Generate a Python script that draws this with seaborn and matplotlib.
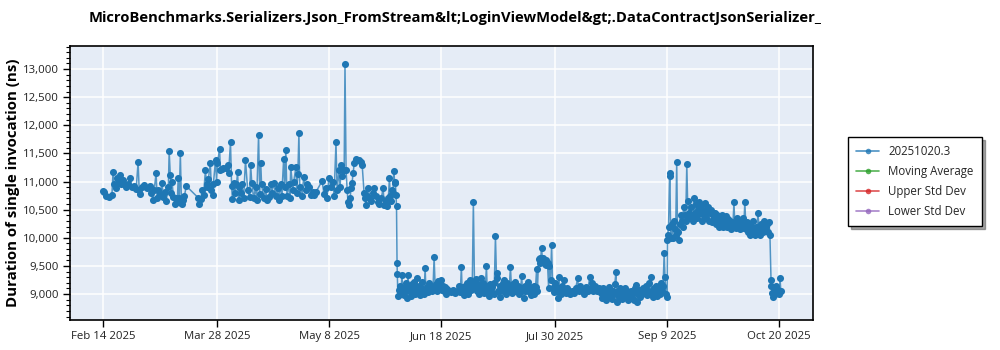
import numpy as np
import pandas as pd
import matplotlib
matplotlib.use("Agg")
import matplotlib.pyplot as plt
import matplotlib.dates as mdates
from matplotlib.ticker import MultipleLocator, FuncFormatter, FixedLocator
from matplotlib.lines import Line2D
import seaborn as sns

TITLE = "MicroBenchmarks.Serializers.Json_FromStream&lt;LoginViewModel&gt;.DataContractJsonSerializer_"
YLABEL = "Duration of single invocation (ns)"
LEGEND_LABELS = ["20251020.3", "Moving Average", "Upper Std Dev", "Lower Std Dev"]
LEGEND_COLORS = ["#1f77b4", "#2ca02c", "#d62728", "#9467bd"]
START_DATE = "2025-02-14"
XTICK_DATES = ["2025-02-14", "2025-03-28", "2025-05-08", "2025-06-18",
               "2025-07-30", "2025-09-09", "2025-10-20"]
XTICK_LABELS = ["Feb 14 2025", "Mar 28 2025", "May 8 2025", "Jun 18 2025",
                "Jul 30 2025", "Sep 9 2025", "Oct 20 2025"]
YTICKS = [9000, 9500, 10000, 10500, 11000, 11500, 12000, 12500, 13000]

# ---- Phase 1: Feb - early June (days since START_DATE) ----
days_p1 = [0.0, 0.4, 1.1, 2.2, 3.3, 3.7, 4.1, 4.8, 5.2, 5.5, 6.3, 6.6, 7.4, 7.7, 8.5, 9.2,
           10.0, 10.7, 11.4, 12.2, 12.9, 13.3, 13.6, 14.4, 15.1, 16.2, 17.3, 17.7, 18.4, 18.8,
           19.5, 19.9, 20.3, 21.0, 21.7, 22.1, 22.9, 23.2, 24.0, 24.3, 24.7, 25.1, 25.4, 25.8,
           26.5, 26.9, 27.3, 27.6, 28.0, 28.4, 28.8, 29.1, 29.5, 29.9, 30.6, 35.0, 35.4, 35.8,
           36.5, 36.9, 37.6, 38.0, 38.3, 38.7, 39.4, 39.8, 40.2, 40.5, 41.3, 41.7, 42.0, 42.8,
           43.1, 43.5, 44.2, 45.0, 45.7, 46.1, 46.8, 47.2, 47.5, 47.9, 48.3, 49.0, 49.4, 49.8,
           50.1, 50.5, 50.9, 51.6, 52.3, 53.1, 53.8, 54.2, 54.6, 55.3, 56.0, 56.4, 57.1, 57.5,
           57.9, 58.2, 59.0, 59.7, 60.1, 60.8, 61.6, 61.9, 62.7, 63.4, 64.1, 64.5, 65.3, 65.6,
           66.3, 66.7, 67.1, 67.5, 68.2, 68.6, 68.9, 69.7, 70.0, 70.8, 71.1, 71.5, 71.9, 72.2,
           73.0, 73.7, 74.5, 74.8, 75.6, 76.3, 77.0, 77.4, 78.1, 80.4, 81.1, 81.8, 82.2, 82.9,
           83.7, 84.4, 84.8, 85.5, 85.9, 86.6, 87.0, 87.4, 87.7, 88.5, 88.8, 89.2, 89.6, 89.9,
           90.3, 90.7, 91.0, 91.4, 91.8, 92.2, 92.9, 93.3, 94.0, 94.7, 95.1, 95.8, 96.2, 96.6,
           96.9, 97.3, 98.0, 98.4, 99.2, 99.5, 100.3, 101.0, 101.4, 102.1, 102.8, 103.2, 103.9,
           104.3, 104.7, 105.1, 105.4, 105.8, 106.1, 106.4, 106.7, 107.0, 107.3, 107.5, 107.7]
vals_p1 = [10830, 10810, 10740, 10720, 10760, 11170, 10950, 10890, 11060, 10980, 11110, 10950,
           11030, 10960, 10900, 10960, 11060, 10900, 10920, 10870, 11350, 10850, 10780, 10900,
           10940, 10880, 10920, 10800, 10670, 10850, 11150, 10700, 10850, 10780, 10970, 10720,
           10820, 10650, 10900, 11540, 11120, 10800, 11000, 10720, 10600, 10700, 10640, 11060,
           10700, 11500, 10620, 10600, 10670, 10750, 10920, 10710, 10600, 10690, 10850, 10760,
           11200, 10950, 10900, 11050, 11330, 10850, 10760, 10950, 11380, 11000, 11330, 11580,
           11200, 11220, 11240, 11250, 11290, 11150, 11700, 10920, 10690, 10980, 10800, 10950,
           11170, 10670, 10900, 10800, 10950, 10700, 11380, 10850, 10720, 11290, 10980, 10700,
           10900, 10680, 11830, 10780, 11330, 10950, 10700, 10870, 10680, 10720, 10950, 10800,
           10970, 10750, 10880, 10680, 10950, 10750, 11400, 10900, 11560, 10750, 10950, 10700,
           11260, 10850, 11000, 11260, 10800, 11130, 11860, 10900, 10750, 11080, 10850, 10950,
           10900, 10760, 10820, 10760, 10810, 11010, 10780, 10880, 10710, 11060, 10900, 10990,
           10750, 11700, 10850, 11200, 10900, 11290, 11100, 11200, 13090, 11200, 10850, 10640,
           10580, 10700, 10880, 10980, 11150, 11330, 11400, 11380, 11380, 11350, 11300, 10800,
           10700, 10580, 10750, 10880, 10700, 10650, 10800, 10880, 10750, 10640, 10600, 10700,
           10880, 10580, 10650, 10560, 10700, 11060, 10750, 10650, 10850, 10800, 11190, 11000,
           10970, 10760, 10570]

# ---- Phase 2: June - early September ----
days_p2 = [107.9, 108.0, 108.2, 108.5, 108.9, 109.3, 109.7, 110.0, 110.4, 110.8, 111.1, 111.5,
           111.9, 112.3, 112.6, 113.0, 113.4, 113.7, 114.1, 114.5, 114.8, 115.2, 115.6, 116.0,
           116.3, 116.7, 117.1, 117.4, 117.8, 118.2, 118.5, 118.9, 119.3, 119.6, 120.0, 120.4,
           120.8, 121.1, 121.5, 121.9, 122.2, 122.6, 123.0, 123.3, 123.7, 124.1, 124.5, 124.8,
           125.2, 125.6, 125.9, 126.3, 127.0, 127.8, 128.5, 129.2, 130.0, 130.7, 131.1, 131.5,
           131.8, 132.2, 132.6, 132.9, 133.3, 133.7, 134.0, 134.4, 134.8, 135.2, 135.5, 135.9,
           136.3, 136.6, 137.0, 137.4, 137.7, 138.1, 138.5, 138.8, 139.2, 139.6, 139.9, 140.3,
           140.7, 141.0, 141.4, 141.8, 142.1, 142.5, 142.9, 143.3, 143.6, 144.0, 144.4, 144.7,
           145.1, 145.5, 145.8, 146.2, 146.6, 146.9, 147.3, 147.7, 148.0, 148.4, 148.8, 149.1,
           149.5, 149.9, 150.2, 150.6, 151.0, 151.3, 151.7, 152.1, 152.5, 152.8, 153.2, 153.6,
           153.9, 154.3, 154.7, 155.0, 155.4, 155.8, 156.1, 156.5, 156.9, 157.2, 157.6, 158.0,
           158.3, 158.7, 159.1, 159.4, 159.8, 160.2, 160.5, 160.9, 161.3, 161.6, 162.0, 162.4,
           162.7, 163.1, 163.5, 163.8, 164.2, 164.6, 165.0, 165.3, 165.7, 166.1, 166.4, 166.8,
           167.2, 167.5, 167.9, 168.3, 168.6, 169.0, 169.4, 169.8, 170.1, 170.5, 171.2, 172.0,
           172.7, 173.4, 174.2, 174.5, 174.9, 175.6, 176.4, 177.1, 177.8, 178.6, 178.9, 179.3,
           179.7, 180.4, 181.1, 181.9, 182.6, 183.0, 183.4, 183.7, 184.1, 184.5, 184.8, 185.2,
           185.6, 185.9, 186.3, 186.7, 187.1, 187.4, 187.8, 188.2, 188.5, 188.9, 189.3, 189.6,
           190.0, 190.4, 190.7, 191.1, 191.5, 191.8, 192.2, 192.6, 192.9, 193.3, 193.7, 194.1,
           194.4, 194.8, 195.2, 195.6, 195.9, 196.3, 196.7, 197.0, 197.4, 197.8, 198.1, 198.5,
           198.9, 199.2, 199.6, 200.0, 200.3, 200.7, 201.1, 201.4, 201.8, 202.2, 202.5, 202.9,
           203.3, 203.7, 204.0, 204.4, 204.8, 205.1, 205.5, 205.9, 206.2, 206.6, 207.0]
vals_p2 = [9550, 9350, 8960, 9080, 9150, 9000, 9340, 9050, 8980, 9120, 9200, 8930,
           9340, 9050, 9150, 8960, 9180, 9060, 9220, 9000, 9100, 9280, 9030, 9150,
           8990, 9100, 9220, 9060, 9000, 9460, 9080, 9130, 9040, 9200, 9080, 9150,
           9050, 9120, 9660, 9100, 9180, 9060, 9230, 9100, 9150, 9250, 9080, 9150,
           9050, 9120, 9010, 9090, 9050, 9030, 9080, 9020, 9060, 9150, 9030, 9480,
           9050, 9120, 8990, 9150, 9050, 9200, 9000, 9130, 9250, 9080, 9180, 10640,
           9220, 9100, 9260, 9050, 9180, 9000, 9150, 9280, 9060, 9200, 9020, 9120,
           9500, 9050, 9150, 8960, 9180, 9050, 9120, 9000, 9200, 10030, 9280, 9370,
           9050, 9150, 8950, 9100, 9200, 9050, 9250, 9000, 9120, 9200, 9050, 9150,
           9480, 9100, 9020, 9180, 9050, 9220, 9080, 9150, 9000, 9120, 9050, 9320,
           9100, 8930, 9150, 9050, 9130, 9210, 9050, 9120, 8990, 9100, 9050, 9150,
           9000, 9120, 9440, 9050, 9620, 9640, 9560, 9820, 9600, 9640, 9540, 9600,
           9520, 9550, 9110, 9500, 9250, 9870, 9100, 9030, 9200, 9120, 9050, 8930,
           9300, 9100, 9000, 9150, 9080, 9250, 9050, 9020, 9100, 9050, 9000, 9050,
           9020, 9100, 9280, 9050, 9150, 9080, 9000, 9130, 9050, 9300, 9100, 9200,
           9050, 9150, 9050, 9100, 9020, 8930, 9100, 9000, 9080, 8890, 9050, 8950,
           9120, 9000, 9060, 8920, 9050, 9000, 9180, 9390, 8860, 9060, 8950, 9100,
           9000, 8920, 9050, 8980, 9100, 8950, 9050, 8900, 9000, 8930, 9060, 8950,
           9020, 8900, 9100, 9160, 8860, 9000, 9080, 8950, 9050, 9000, 9100, 9020,
           9050, 9150, 8980, 9050, 9200, 9000, 9300, 9050, 8950, 9100, 9020, 9150,
           8960, 9050, 9100, 9000, 9200, 9050, 9150, 9730, 9300, 9000, 8950]

# ---- Phase 3: September - October ----
days_p3 = [207.1, 207.2, 207.5, 207.9, 208.0, 208.3, 208.6, 209.0, 209.4, 209.7, 210.1, 210.5,
           210.8, 211.2, 211.6, 211.9, 212.3, 212.7, 213.0, 213.4, 213.8, 214.2, 214.5, 214.9,
           215.3, 215.6, 216.0, 216.4, 216.7, 217.1, 217.5, 217.8, 218.2, 218.6, 218.9, 219.3,
           219.7, 220.0, 220.4, 220.8, 221.1, 221.5, 221.9, 222.2, 222.6, 223.0, 223.4, 223.7,
           224.1, 224.5, 224.8, 225.2, 225.6, 225.9, 226.3, 226.7, 227.0, 227.4, 227.8, 228.1,
           228.5, 228.9, 229.2, 229.6, 230.0, 230.3, 230.7, 231.1, 231.5, 231.8, 232.2, 232.6,
           232.9, 233.3, 233.7, 234.0, 234.4, 234.8, 235.1, 235.5, 235.9, 236.2, 236.6, 237.0,
           237.3, 237.7, 238.1, 238.5, 238.8, 239.2, 239.6, 239.9, 240.3, 240.7, 241.0, 241.4,
           241.8, 242.1, 242.5, 242.9, 243.2, 243.6, 244.0, 244.3, 244.7, 245.1, 245.2, 245.5,
           245.9, 246.2, 246.6, 247.0, 247.3, 247.7, 248.1, 248.4, 248.7]
vals_p3 = [9960, 10050, 10200, 11150, 11100, 10000, 10250, 9990, 10300, 10150, 10050, 11350,
           10100, 9960, 10250, 10400, 10300, 10200, 10550, 10400, 10300, 11310, 10650, 10450,
           10350, 10550, 10400, 10300, 10700, 10450, 10600, 10350, 10500, 10640, 10450, 10580,
           10300, 10500, 10400, 10620, 10350, 10480, 10550, 10300, 10450, 10500, 10280, 10400,
           10350, 10450, 10250, 10400, 10300, 10200, 10350, 10250, 10400, 10200, 10300, 10250,
           10380, 10200, 10330, 10250, 10300, 10150, 10280, 10200, 10640, 10250, 10180, 10350,
           10200, 10300, 10150, 10250, 10180, 10350, 10200, 10640, 10150, 10280, 10100, 10250,
           10050, 10200, 10100, 10300, 10150, 10050, 10200, 10100, 10440, 10200, 10050, 10250,
           10150, 10100, 10300, 10150, 10200, 10250, 10100, 10280, 10050, 9250, 9150, 9020,
           8950, 9100, 9000, 9150, 9050, 9070, 9000, 9280, 9060]

days = days_p1 + days_p2 + days_p3
vals = vals_p1 + vals_p2 + vals_p3
df = pd.DataFrame({
    "date": pd.Timestamp(START_DATE) + pd.to_timedelta(days, unit="D"),
    "value": vals,
})

sns.set_theme(style="white")
plt.rcParams["font.family"] = ["Open Sans", "DejaVu Sans"]

fig = plt.figure(figsize=(10, 3.5), dpi=100)
ax = fig.add_axes([0.07, 0.0857, 0.743, 0.783])
ax.set_facecolor("#E5ECF6")

main_color = LEGEND_COLORS[0]
sns.lineplot(data=df, x="date", y="value", estimator=None, sort=False, ax=ax,
             color=main_color, linewidth=1.1, alpha=0.75, legend=False)
sns.scatterplot(data=df, x="date", y="value", ax=ax, color=main_color,
                s=26, linewidth=0, legend=False, zorder=3)

ax.set_xlim(pd.Timestamp("2025-02-01 22:00"), pd.Timestamp("2025-11-01 12:00"))
ax.set_ylim(8540, 13410)

tick_dates = [pd.Timestamp(d) for d in XTICK_DATES]
ax.set_xticks(tick_dates)
ax.set_xticklabels(XTICK_LABELS)
ax.set_yticks(YTICKS)
ax.yaxis.set_major_formatter(FuncFormatter(lambda v, p: f"{int(v):,}"))
ax.yaxis.set_minor_locator(MultipleLocator(100))

ax.grid(True, which="major", color="white", linewidth=1.1)
ax.set_axisbelow(True)
ax.tick_params(axis="both", which="major", direction="out", length=5, width=1,
               color="black", labelsize=8.2, labelcolor="#222222", left=True, bottom=True,
               pad=3)
ax.tick_params(axis="y", which="minor", direction="out", length=3, width=0.8,
               color="black", left=True)
for sp in ax.spines.values():
    sp.set_color("black")
    sp.set_linewidth(1.2)

ax.set_xlabel("")
ax.set_ylabel("")
fig.text(0.013, 0.477, YLABEL, rotation=90, ha="center", va="center",
         fontsize=10.8, fontweight="bold", color="black")
fig.text(0.455, 0.948, TITLE, ha="center", va="center",
         fontsize=10.6, fontweight="bold", color="black")

handles = [Line2D([0], [0], color=c, linewidth=1.2, alpha=0.8, marker="o",
                  markersize=4, markeredgewidth=0) for c in LEGEND_COLORS]
leg = fig.legend(handles, LEGEND_LABELS, loc="upper left",
                 bbox_to_anchor=(0.848, 0.609), frameon=True, fancybox=False,
                 shadow=True, edgecolor="black", fontsize=8.3, handlelength=2,
                 borderpad=0.7, labelspacing=0.6, borderaxespad=0)
leg.get_frame().set_linewidth(1.0)

fig.savefig("out.png", dpi=100)
